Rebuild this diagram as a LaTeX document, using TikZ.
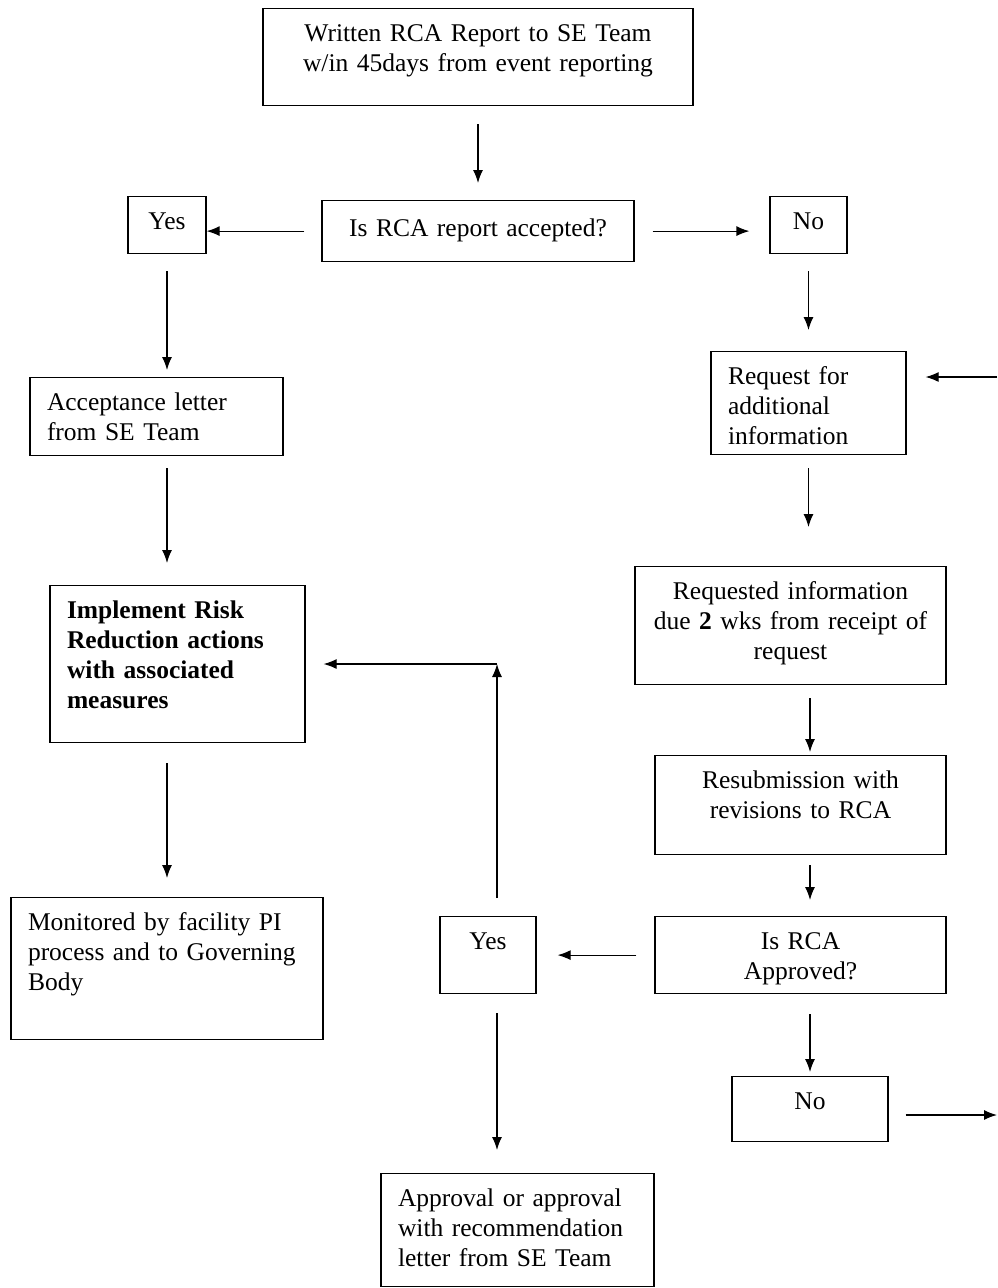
\documentclass[tikz,border=0pt]{standalone}
\usepackage{fontspec}
\setmainfont{Liberation Serif}
\usetikzlibrary{arrows.meta,positioning,calc}

\protected\def\tightsp{\spaceskip=0.17em\relax}
\tikzset{
  box/.style={draw, line width=1.2pt, anchor=north, inner xsep=17pt, inner ysep=0pt,
              text height=33pt, font=\fontsize{25.5}{30}\selectfont\tightsp},
  arr/.style={-{Latex[length=13pt,width=10pt]}, line width=1.2pt},
}

\begin{document}
\begin{tikzpicture}[x=1pt,y=-1pt]
  \useasboundingbox (0,0) rectangle (997,1288);

  % top of the flow
  \node[box, text width=396pt, align=center, text depth=64pt] (report) at (478,8)
    {Written RCA Report to SE Team\\ w/in 45days from event reporting};
  \node[box, text width=278pt, align=center, text height=36pt, text depth=25pt] (accepted) at (478,200)
    {Is RCA report accepted?};
  \node[box, text width=44pt, align=center, text depth=24pt] (yesA) at (167,196) {Yes};
  \node[box, text width=43pt, align=center, text depth=24pt] (noA) at (808.5,196) {No};

  % left branch
  \node[box, text width=219pt, align=left, text depth=45pt] (letter) at (156.5,377)
    {Acceptance letter\\ from SE Team};
  \node[box, text width=221pt, align=left, text depth=124pt, font=\fontsize{25.5}{30}\selectfont\bfseries\tightsp] (implement) at (177.5,585)
    {Implement Risk\\ Reduction actions\\ with associated\\ measures};
  \node[box, text width=278pt, align=left, text depth=109pt] (monitor) at (167,897)
    {Monitored by facility PI\\ process and to Governing\\ Body};

  % right branch
  \node[box, text width=161pt, align=left, text depth=70pt] (request) at (808.5,351)
    {Request for\\ additional\\ information};
  \node[box, inner xsep=6pt, text width=299pt, align=center, text depth=85pt] (reqinfo) at (790.5,566)
    {Requested information\\ due \textbf{2} wks from receipt of\\ request};
  \node[box, text width=257pt, align=center, text depth=66pt] (resubmit) at (800.5,755)
    {Resubmission with\\ revisions to RCA};
  \node[box, text width=257pt, align=center, text depth=44pt] (approved) at (800.5,916)
    {Is RCA\\ Approved?};
  \node[box, text width=62pt, align=center, text depth=44pt] (yesB) at (488,916) {Yes};
  \node[box, text width=122pt, align=center, text depth=32pt] (noB) at (810,1076) {No};
  \node[box, text width=239pt, align=left, text depth=80pt] (approval) at (517.5,1173)
    {Approval or approval\\ with recommendation\\ letter from SE Team};

  \coordinate (turn) at (497,664);
  \coordinate (edgeB) at (997,1115);
  \coordinate (edgeT) at (997,377);

  % connectors
  \draw[arr] ([yshift=-18pt]report.south) -- ([yshift=17pt]accepted.north);
  \draw[arr] ([xshift=-17pt]accepted.west) -- (accepted.west -| yesA.east);
  \draw[arr] ([xshift=18pt]accepted.east) -- ([xshift=-20pt]accepted.east -| noA.west);
  \draw[arr] ([yshift=-17pt]yesA.south) -- ([yshift=7pt]letter.north -| yesA.south);
  \draw[arr] ([yshift=-17pt]noA.south) -- ([yshift=21pt]request.north);
  \draw[arr] ([yshift=-12pt]letter.south -| yesA.south) -- ([yshift=22pt]implement.north -| yesA.south);
  \draw[arr] ([yshift=-13pt]request.south) -- ([yshift=39pt]reqinfo.north -| request.south);
  \draw[arr] ([yshift=-13pt]reqinfo.south -| noB.north) -- ([yshift=3pt]resubmit.north -| noB.north);
  \draw[arr] ([yshift=-10pt]resubmit.south -| noB.north) -- ([yshift=16pt]approved.north -| noB.north);
  \draw[arr] ([xshift=-18pt]approved.west) -- ([xshift=21pt]yesB.east);
  \draw[arr] ([yshift=-20pt]approved.south -| noB.north) -- ([yshift=4pt]noB.north);
  \draw[arr] ([yshift=18pt]yesB.north -| turn) -- (turn);
  \draw[arr] (turn) -- ([xshift=18pt]implement.east |- turn);
  \draw[arr] ([yshift=-19pt]yesB.south -| turn) -- ([yshift=23pt]approval.north -| turn);
  \draw[arr] ([yshift=-20pt]implement.south -| monitor.north) -- ([yshift=19pt]monitor.north);
  \draw[arr] ([xshift=17pt]noB.east |- edgeB) -- (edgeB);
  \draw[arr] (edgeT) -- ([xshift=19pt]request.east |- edgeT);
\end{tikzpicture}
\end{document}
